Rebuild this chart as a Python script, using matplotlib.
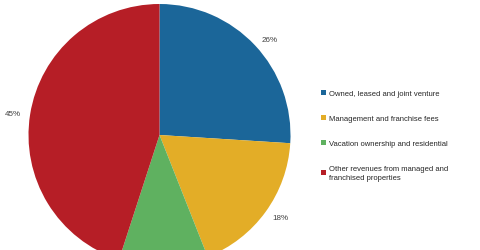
import numpy as np
import matplotlib.pyplot as plt

plt.rcParams['font.family'] = ['Liberation Sans', 'DejaVu Sans']

# revenue mix
categories = ["Owned, leased and joint venture",
              "Management and franchise fees",
              "Vacation ownership and residential",
              "Other revenues from managed and\nfranchised properties"]
shares = [26, 18, 11, 45]
colors = ['#1B6699', '#E3AD27', '#5FB160', '#B61E26']

W, H = 480, 251
fig = plt.figure(figsize=(W / 100, H / 100), dpi=100)

# pie axes placed so that center ~ (159.5, 136) px from top, radius 131 px
cx, cy, r = 159.5, 136, 131
ax = fig.add_axes([(cx - r) / W, (H - cy - r) / H, 2 * r / W, 2 * r / H])

wedges, texts, autotexts = ax.pie(
    shares, colors=colors, startangle=90, counterclock=False,
    autopct='%d%%', radius=1,
    textprops=dict(fontsize=5.8, color='#404040'))

# labels sit just outside the rim, pushed sideways like "outside end" labels
gap, half_w = 9 / r, 8 / r
for w, t in zip(wedges, autotexts):
    ang = np.deg2rad((w.theta1 + w.theta2) / 2)
    dx, dy = np.cos(ang), np.sin(ang)
    t.set_position(((1 + gap) * dx + half_w * np.sign(dx), (1 + gap) * dy))
# the green slice's label sits below the visible area in the original
autotexts[2].set_visible(False)

ax.set_xlim(-1, 1)
ax.set_ylim(-1, 1)
ax.set_aspect('equal')
ax.axis('off')

leg = fig.legend(wedges, categories, loc='upper left',
                 bbox_to_anchor=(321 / W, 1 - 91 / H),
                 frameon=False, fontsize=5.5, handlelength=0.7,
                 handleheight=0.7, handletextpad=0.3, labelspacing=2.3,
                 borderpad=0, borderaxespad=0)
for t in leg.get_texts():
    t.set_color('#262626')
    t.set_linespacing(1.45)

fig.savefig('out.png', dpi=100)
